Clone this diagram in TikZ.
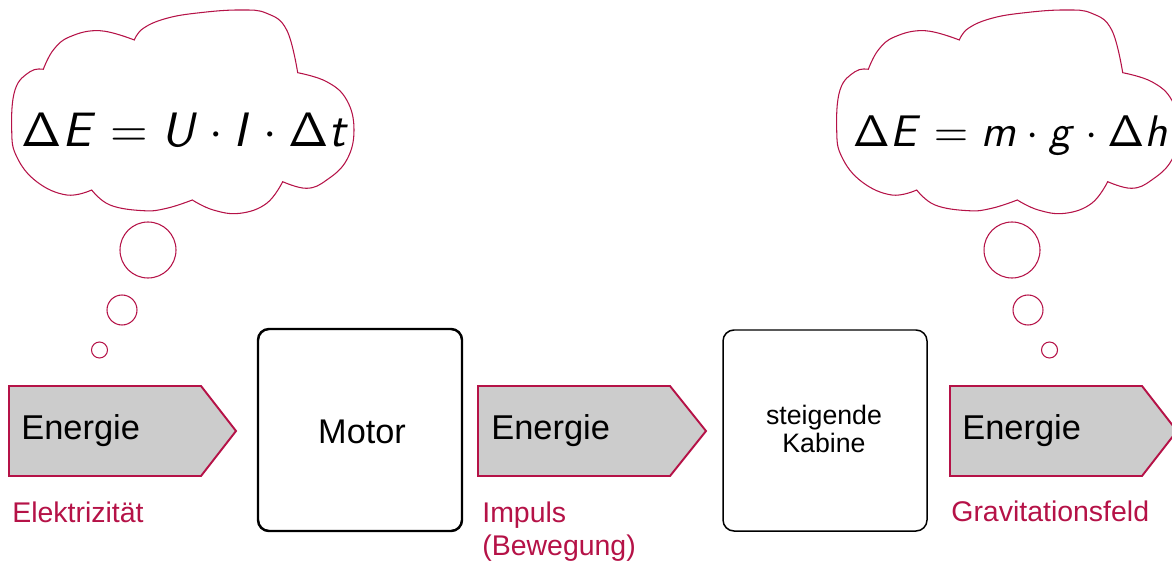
\documentclass[tikz,border=0pt]{standalone}
\usepackage[no-math]{fontspec}
\newfontfamily\arialfont{Liberation Sans}
\DeclareMathAlphabet{\mathsfit}{OT1}{cmss}{m}{sl}
\definecolor{flowred}{RGB}{181,18,71}
\definecolor{flowgray}{RGB}{204,204,204}
\tikzset{
  cloudline/.style={draw=flowred, line width=0.6pt, fill=white},
  energyarrow/.style={draw=flowred, fill=flowgray, line width=1.1pt},
  energytext/.style={font=\arialfont\fontsize{19.6}{22}\selectfont, anchor=base west, inner sep=0pt},
  carrier/.style={font=\arialfont\fontsize{16.2}{18.7}\selectfont, text=flowred, anchor=base west, inner sep=0pt, align=left},
  formula/.style={inner sep=0pt},
  thoughtcloud/.pic={
    \path[cloudline]
      plot[smooth, tension=0.7] coordinates {(43.3,69.3) (53.3,50) (70,36.7) (100,30.7) (134.3,40)}
      -- plot[smooth, tension=0.7] coordinates {(134.3,40) (143.3,28.3) (166.7,18.3) (200,12.7) (240,10) (266.7,13.3) (286.7,30) (297.7,72.7)}
      -- plot[smooth, tension=0.7] coordinates {(297.7,72.7) (326.7,81.7) (346.7,100) (354,130) (346.7,160) (326.7,180) (306.7,188.3) (282.7,181.7)}
      -- plot[smooth, tension=0.7] coordinates {(282.7,181.7) (266.7,203.3) (240,213.3) (213.3,210) (192.3,200)}
      -- plot[smooth, tension=0.7] coordinates {(192.3,200) (166.7,208.3) (143.3,210.7) (110,205) (91.7,190)}
      -- plot[smooth, tension=0.7] coordinates {(91.7,190) (66.7,195) (36.7,181.7) (16.7,156.7) (11.7,130) (15,90) (30,71.7) (43.3,69.3)}
      -- cycle;
  }
}
\begin{document}
\begin{tikzpicture}[x=0.02cm, y=-0.02cm]
\useasboundingbox (0,0) rectangle (1172,567);

% thought clouds with their trailing bubbles
\pic (cloudL) at (0,0) {thoughtcloud};
\pic (cloudR) at (825,0) {thoughtcloud};
\draw[cloudline] (148,250) circle[radius=28*0.02cm];
\draw[cloudline] (122,310) circle[radius=15*0.02cm];
\draw[cloudline] (99.5,350) circle[radius=8*0.02cm];
\draw[cloudline] (1012,250) circle[radius=28*0.02cm];
\draw[cloudline] (1028,310) circle[radius=15*0.02cm];
\draw[cloudline] (1049.5,350) circle[radius=8*0.02cm];

\node[formula, scale=2.75, anchor=base west] (eqL) at (21,147)
  {$\mathsf{\Delta}\mathsfit{E}=\mathsfit{U}\cdot\mathsfit{I}\cdot\mathsf{\Delta}\mathsfit{t}$};
\node[formula, scale=2.52, anchor=base west] (eqR) at (852,147)
  {$\mathsf{\Delta}\mathsfit{E}=\mathsfit{m}\cdot\mathsfit{g}\cdot\mathsf{\Delta}\mathsfit{h}$};

% energy arrows
\draw[energyarrow] (9,386) -- (201,386) -- (236,431) -- (201,476) -- (9,476) -- cycle;
\draw[energyarrow] (478,386) -- (670,386) -- (706,431) -- (670,476) -- (478,476) -- cycle;
\draw[energyarrow] (950,386) -- (1142,386) -- (1177,431) -- (1142,476) -- (950,476) -- cycle;
\node[energytext] (e1) at (21,439) {Energie};
\node[energytext] (e2) at (491,439) {Energie};
\node[energytext] (e3) at (962,439) {Energie};

% energy carriers
\node[carrier] (c1) at (12,522) {Elektrizität};
\node[carrier] (c2) at (482,555) {Impuls\\(Bewegung)};
\node[carrier] (c3) at (951,521) {Gravitationsfeld};

% converters
\draw[black, line width=1.4pt, rounded corners=11*0.02cm] (258,329) rectangle (462,531);
\node[font=\arialfont\fontsize{19.5}{22}\selectfont, inner sep=0pt] (motor) at (362,432) {Motor};
\draw[black, line width=0.85pt, rounded corners=11*0.02cm] (723,330) rectangle (927,531);
\node[font=\arialfont\fontsize{15.2}{16.4}\selectfont, align=center, inner sep=0pt] (kabine) at (824,429) {steigende\\Kabine};
\end{tikzpicture}
\end{document}
